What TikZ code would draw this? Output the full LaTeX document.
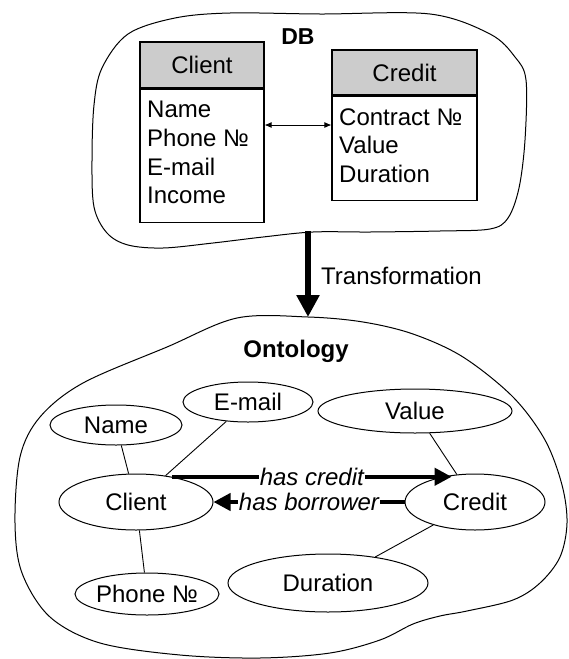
\documentclass[tikz,border=0pt]{standalone}
\usepackage{fontspec}
\setmainfont{Liberation Sans}
\usetikzlibrary{arrows.meta,shapes.geometric}
\definecolor{hdrgray}{HTML}{CCCCCC}
\tikzset{
  txt/.style={font=\fontsize{24}{28}\selectfont, inner sep=0pt},
  bodytxt/.style={txt, anchor=base west},
  hdr/.style={draw, line width=1.1pt, fill=hdrgray, inner sep=0pt, txt},
  tbody/.style={draw, line width=1.1pt, fill=white, inner sep=0pt, anchor=north},
  cloud/.style={draw, line width=1pt},
  ell/.style={draw, ellipse, line width=1pt, inner sep=0pt, txt},
  link/.style={line width=0.9pt},
  rel/.style={line width=4pt, -{Triangle[length=17pt,width=17pt]}},
  rellab/.style={fill=white, inner xsep=1pt, inner ysep=2pt, font=\fontsize{24}{28}\selectfont\itshape},
  title/.style={font=\fontsize{23}{27}\selectfont\bfseries, inner sep=0pt},
}
\begin{document}
\begin{tikzpicture}[x=1pt,y=-1pt]
\useasboundingbox (0,0) rectangle (569,659);

% DB cloud
\draw[cloud] plot[smooth cycle, tension=0.55] coordinates {
 (230,13) (320,14) (430,14) (490,34) (515,57) (526,80)
 (525,140) (519,188) (508,218) (490,229) (440,231) (370,232) (313,232)
 (263,237) (213,243) (163,248) (128,245) (107,233) (94,207) (92,160)
 (94,105) (102,68) (128,34) (175,18)};

% Ontology cloud
\draw[cloud] plot[smooth cycle, tension=0.55] coordinates {
 (237,318) (308,317) (363,322) (413,334) (463,357) (513,397) (545,440)
 (562,485) (567,523) (560,557) (540,583) (513,600) (467,611) (440,616)
 (413,624) (380,640) (330,653) (260,658) (180,655) (100,643) (50,617)
 (22,573) (15,523) (20,457) (40,417) (83,383) (167,347)};

% DB title
\node[title] (dbt) at (298,37) {DB};

% Client table
\node[hdr, minimum width=124pt, minimum height=46pt] (clienth) at (202,65) {Client};
\node[tbody, minimum width=124pt, minimum height=133pt] (clientb) at (clienth.south) {};
\node[bodytxt] (c1) at (147,117) {Name};
\node[bodytxt] (c2) at (147,146) {Phone №};
\node[bodytxt] (c3) at (147,175) {E-mail};
\node[bodytxt] (c4) at (147,203) {Income};

% Credit table
\node[hdr, minimum width=145pt, minimum height=45pt] (credh) at (404.5,72.5) {Credit};
\node[tbody, minimum width=145pt, minimum height=104pt] (credb) at (credh.south) {};
\node[bodytxt] (d1) at (339,125) {Contract №};
\node[bodytxt] (d2) at (339,153) {Value};
\node[bodytxt] (d3) at (339,182) {Duration};

\coordinate (relY) at (300,125);
\draw[line width=0.9pt, {Latex[length=7pt,width=6pt]}-{Latex[length=7pt,width=6pt]}]
  (clientb.east |- relY) -- (credb.west |- relY);

% Transformation arrow
\coordinate (dbbot) at (308,231);
\coordinate (ontop) at (308,317);
\draw[line width=5.5pt, -{Triangle[length=22pt,width=22pt]}] (dbbot) -- (ontop);
\node[txt, anchor=west] (trans) at (321,276) {Transformation};

% Ontology
\node[title, font=\fontsize{24}{28}\selectfont\bfseries] (ont) at (296,351) {Ontology};

\node[ell, minimum width=132pt, minimum height=40pt] (name) at (116,425) {Name};
\node[ell, minimum width=130pt, minimum height=40pt] (email) at (248,402) {E-mail};
\node[ell, minimum width=194pt, minimum height=44pt] (value) at (415,411) {Value};
\node[ell, minimum width=154pt, minimum height=56pt] (client) at (136,502) {Client};
\node[ell, minimum width=140pt, minimum height=56pt] (credit) at (475,502) {Credit};
\node[ell, minimum width=130pt, minimum height=42pt] (phone) at (147,594) {Phone №};
\node[ell, minimum width=200pt, minimum height=58pt] (dur) at (328,583) {Duration};

\draw[link] (name) -- (client);
\draw[link] (email) -- (client);
\draw[link] (phone) -- (client);
\draw[link] (value) -- (credit);
\draw[link] (dur) -- (credit);

\draw[rel] (client.35) -- node[rellab] (hc) {has credit} (client.35 -| credit.131);
\draw[rel] (credit.west) -- node[rellab] (hb) {has borrower} (client.east);
\end{tikzpicture}
\end{document}
